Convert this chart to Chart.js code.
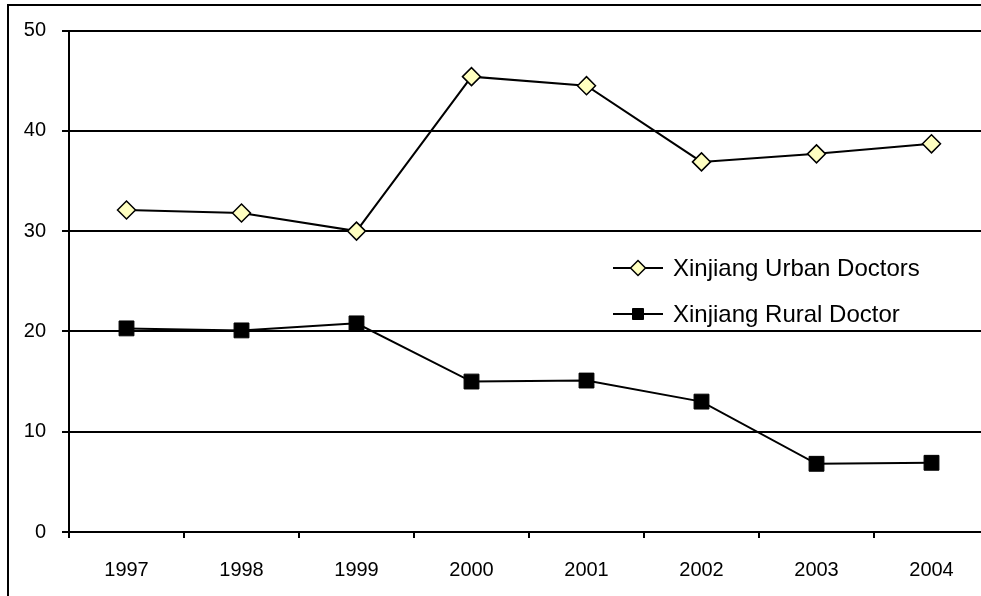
<!DOCTYPE html>
<html>
<head>
<meta charset="utf-8">
<script src="https://cdn.jsdelivr.net/npm/chart.js@4/dist/chart.umd.min.js"></script>
<style>
  html, body { margin: 0; padding: 0; background: #fff; overflow: hidden; width: 981px; height: 596px; }
  #stage { position: absolute; left: 0; top: 0; width: 981px; height: 596px; overflow: hidden; }
  #frame { position: absolute; left: 7px; top: 4px; width: 1200px; height: 800px; border-left: 2px solid #000; border-top: 2px solid #000; }
  #c { position: absolute; left: 0; top: 0; display: block; width: 989px; height: 596px; max-width: none; }
</style>
</head>
<body>
<div id="stage">
  <div id="frame"></div>
  <canvas id="c" width="989" height="596"></canvas>
</div>
<script>
// Doctors per 10,000 population, Xinjiang, 1997-2004
const years = ['1997', '1998', '1999', '2000', '2001', '2002', '2003', '2004'];
const urbanDoctors = [32.1, 31.8, 30.0, 45.4, 44.5, 36.9, 37.7, 38.7];
const ruralDoctors = [20.3, 20.1, 20.8, 15.0, 15.1, 13.0, 6.8, 6.9];
const yTicks = [0, 10, 20, 30, 40, 50];

const FONT = '"Liberation Sans", Arial, sans-serif';

// Legend drawn inside the plot: line sample with marker, then the label
const insideLegend = {
  id: 'insideLegend',
  afterDraw(chart) {
    const ctx = chart.ctx;
    chart.data.datasets.forEach((ds, i) => {
      const y = 268 + i * 46;
      const cx = 638;
      ctx.save();
      ctx.strokeStyle = ds.borderColor;
      ctx.lineWidth = ds.borderWidth;
      ctx.beginPath();
      ctx.moveTo(613, y);
      ctx.lineTo(663, y);
      ctx.stroke();

      ctx.fillStyle = ds.pointBackgroundColor;
      ctx.strokeStyle = ds.pointBorderColor;
      ctx.lineWidth = ds.pointBorderWidth;
      ctx.beginPath();
      if (ds.pointStyle === 'rectRot') {
        const r = 7.5;
        ctx.moveTo(cx - r, y);
        ctx.lineTo(cx, y - r);
        ctx.lineTo(cx + r, y);
        ctx.lineTo(cx, y + r);
        ctx.closePath();
      } else {
        const h = 5.5;
        ctx.rect(cx - h, y - h, 2 * h, 2 * h);
      }
      ctx.fill();
      ctx.stroke();

      ctx.fillStyle = '#000';
      ctx.font = '24px ' + FONT;
      ctx.textAlign = 'left';
      ctx.textBaseline = 'middle';
      ctx.fillText(ds.label, 673, y + 1);
      ctx.restore();
    });
  }
};

new Chart(document.getElementById('c'), {
  type: 'line',
  data: {
    labels: years,
    datasets: [
      {
        label: 'Xinjiang Urban Doctors',
        data: urbanDoctors,
        borderColor: '#000',
        borderWidth: 2,
        pointStyle: 'rectRot',
        pointRadius: 9,
        pointBackgroundColor: '#FFFFC0',
        pointBorderColor: '#000',
        pointBorderWidth: 1.5,
        tension: 0
      },
      {
        label: 'Xinjiang Rural Doctor',
        data: ruralDoctors,
        borderColor: '#000',
        borderWidth: 2,
        pointStyle: 'rect',
        pointRadius: 10.5,
        pointBackgroundColor: '#000',
        pointBorderColor: '#000',
        pointBorderWidth: 1,
        tension: 0
      }
    ]
  },
  options: {
    responsive: false,
    animation: false,
    devicePixelRatio: 1,
    // the canvas is wider than the page, so the last category is cut off at the right edge
    layout: { autoPadding: false, padding: { top: 30.5, left: 0, right: 0, bottom: 0 } },
    plugins: {
      legend: { display: false },
      tooltip: { enabled: false },
      title: { display: false }
    },
    scales: {
      x: {
        type: 'category',
        offset: true,
        grid: { display: true, drawOnChartArea: false, offset: true, tickLength: 6, color: '#000', lineWidth: 2 },
        border: { display: true, color: '#000', width: 2 },
        ticks: { color: '#000', font: { family: FONT, size: 20 }, padding: 20, maxRotation: 0, autoSkip: false },
        afterFit(s) { s.height = 64; }
      },
      y: {
        min: 0,
        max: 50,
        afterBuildTicks(s) { s.ticks = yTicks.map(v => ({ value: v })); },
        grid: { color: '#000', lineWidth: 2, tickLength: 7 },
        border: { display: true, color: '#000', width: 2 },
        ticks: { color: '#000', font: { family: FONT, size: 20 }, padding: 16 },
        afterFit(s) { s.width = 69; }
      }
    }
  },
  plugins: [insideLegend]
});
</script>
</body>
</html>
